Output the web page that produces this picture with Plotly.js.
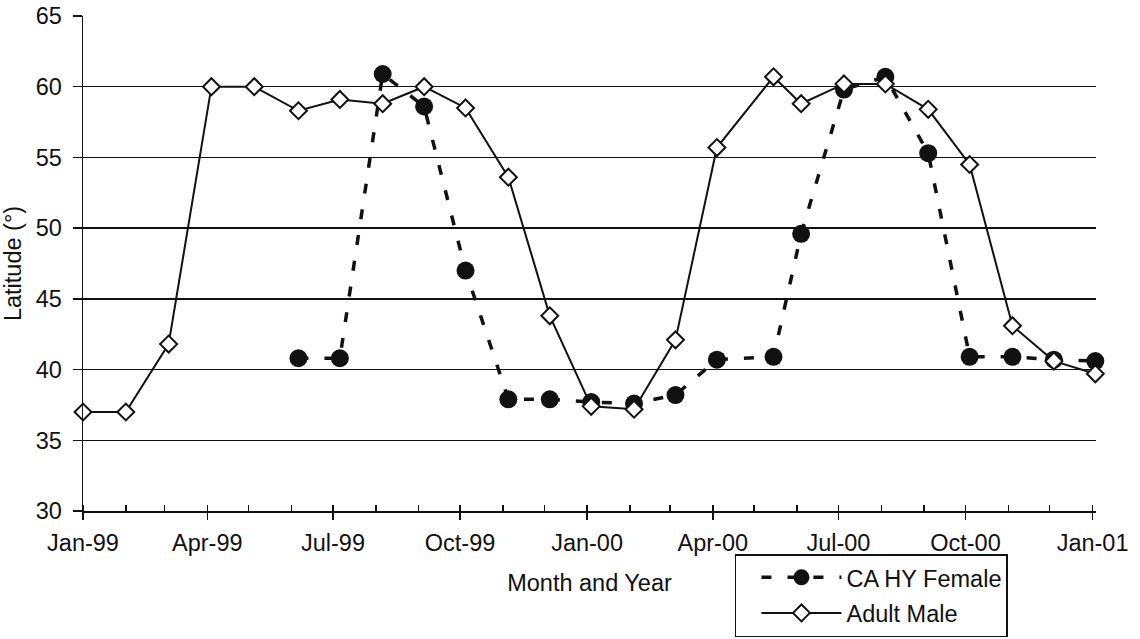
<!DOCTYPE html>
<html>
<head>
<meta charset="utf-8">
<script src="https://cdn.plot.ly/plotly-3.0.1.min.js"></script>
<style>html,body{margin:0;padding:0;background:#fff;}#chart{width:1140px;height:639px;}</style>
</head>
<body>
<div id="chart"></div>
<script>
var obsDates = ['1999-01-01','1999-02-01','1999-03-04','1999-04-04','1999-05-05',
  '1999-06-06','1999-07-06','1999-08-06','1999-09-05','1999-10-05','1999-11-05','1999-12-05',
  '2000-01-04','2000-02-04','2000-03-05','2000-04-04','2000-05-15','2000-06-04','2000-07-05',
  '2000-08-04','2000-09-04','2000-10-04','2000-11-04','2000-12-04','2001-01-03'];

// Mean latitude (degrees)
var femaleLat = [null, null, null, null, null,
  40.8, 40.8, 60.9, 58.6, 47.0, 37.9, 37.9,
  37.7, 37.6, 38.2, 40.7, 40.9, 49.6, 59.8,
  60.7, 55.3, 40.9, 40.9, 40.7, 40.6];
var maleLat = [37.0, 37.0, 41.8, 60.0, 60.0,
  58.3, 59.1, 58.8, 60.0, 58.5, 53.6, 43.8,
  37.4, 37.2, 42.1, 55.7, 60.7, 58.8, 60.2,
  60.2, 58.4, 54.5, 43.1, 40.6, 39.7];

var seriesNames = ['CA HY Female', 'Adult Male'];
var yTickVals = [30, 35, 40, 45, 50, 55, 60, 65];

var ink = '#111111';
var font = {family: '"Liberation Sans", Arial, Helvetica, sans-serif', size: 23.5, color: ink};

var traces = [
  {
    x: obsDates, y: femaleLat, name: seriesNames[0], type: 'scatter', mode: 'lines+markers',
    legendgroup: 'f', cliponaxis: false,
    line: {color: ink, width: 3.5, dash: '10px,16px'},
    marker: {symbol: 'circle', size: 18, color: ink, line: {width: 0}}
  },
  {
    x: obsDates, y: maleLat, name: seriesNames[1], type: 'scatter', mode: 'lines+markers',
    legendgroup: 'm', cliponaxis: false,
    line: {color: ink, width: 2},
    marker: {symbol: 'diamond', size: 13, color: '#ffffff', line: {color: ink, width: 2}}
  }
];

var layout = {
  width: 1140, height: 639,
  margin: {l: 83, r: 44, t: 16, b: 128, autoexpand: false},
  paper_bgcolor: '#ffffff', plot_bgcolor: '#ffffff',
  font: font,
  showlegend: true,
  legend: {
    xref: 'container', yref: 'container',
    x: 0.6447, y: 0.003, xanchor: 'left', yanchor: 'bottom',
    bordercolor: ink, borderwidth: 1.5, bgcolor: '#ffffff',
    font: font, itemwidth: 80, indentation: 20, entrywidth: 190,
    traceorder: 'grouped', tracegroupgap: 2
  },
  xaxis: {
    type: 'date',
    range: ['1999-01-01', '2001-01-03 12:00'],
    tick0: '1999-01-01', dtick: 'M3', tickformat: '%b-%y',
    ticks: 'outside', ticklen: 7, tickwidth: 1.5, tickcolor: ink,
    ticklabelstandoff: 3,
    minor: {dtick: 'M1', ticks: 'inside', ticklen: 6, tickwidth: 1.5, tickcolor: ink, showgrid: false},
    showline: true, linecolor: ink, linewidth: 1.5,
    showgrid: false, zeroline: false,
    tickfont: font,
    title: {text: 'Month and Year', font: font, standoff: 20}
  },
  yaxis: {
    range: [30, 65],
    tickvals: yTickVals,
    ticks: 'outside', ticklen: 9, tickwidth: 1.5, tickcolor: ink,
    ticklabelstandoff: 6,
    showline: true, linecolor: ink, linewidth: 1.5,
    showgrid: true, gridcolor: ink, gridwidth: 1.5,
    zeroline: false,
    tickfont: font,
    title: {text: 'Latitude (°)', font: font, standoff: 7}
  }
};

Plotly.newPlot('chart', traces, layout, {displayModeBar: false, staticPlot: true});
</script>
</body>
</html>
